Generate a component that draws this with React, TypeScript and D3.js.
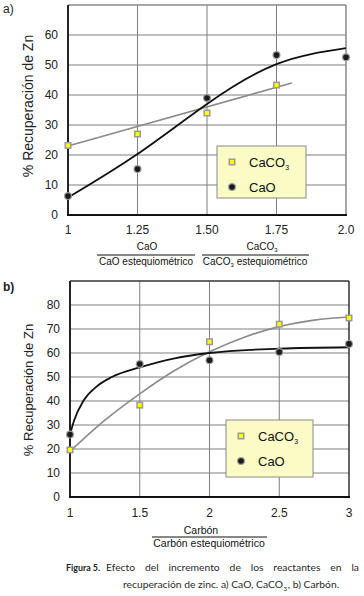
import React, { useLayoutEffect, useRef } from "react";
import * as d3 from "d3";

// ---------- data ----------
const A_X = [1, 1.25, 1.5, 1.75, 2];
const A_X_LABELS = ["1", "1.25", "1.50", "1.75", "2.0"];
const A_Y_TICKS = [0, 10, 20, 30, 40, 50, 60];
const A_CACO3_X = [1, 1.25, 1.5, 1.75];
const A_CACO3 = [23.2, 27, 34, 43.3];
const A_CAO = [6.3, 15.3, 39, 53.3, 52.6];
const A_CACO3_FIT_X = [1, 1.805];
const A_CACO3_FIT = [23, 44];
const A_CAO_FIT_X = [1, 1.25, 1.5, 1.75, 2];
const A_CAO_FIT = [5.8, 20.3, 37, 50.3, 55.6];

const B_X = [1, 1.5, 2, 2.5, 3];
const B_X_LABELS = ["1", "1.5", "2", "2.5", "3"];
const B_Y_TICKS = [0, 10, 20, 30, 40, 50, 60, 70, 80];
const B_CACO3 = [19.6, 38.3, 64.7, 72, 74.6];
const B_CAO = [26, 55.4, 57, 60.4, 63.8];
const B_CACO3_FIT_X = [1, 1.25, 1.5, 1.75, 2, 2.25, 2.5, 2.75, 3];
const B_CACO3_FIT = [19, 32, 43, 52.7, 60.5, 66.6, 71, 73.7, 75];
const B_CAO_FIT_X = [1, 1.03, 1.095, 1.19, 1.3, 1.5, 1.75, 2, 2.5, 3];
const B_CAO_FIT = [26, 32, 40, 46, 50, 54, 57.8, 60, 61.8, 62.4];

const CAPTION_LINE1 = ["Efecto", "del", "incremento", "de", "los", "reactantes", "en", "la"];
const CAPTION_LINE2 = [
  { t: "recuperación de zinc. a) CaO, CaCO", sub: false },
  { t: "3", sub: true },
  { t: ", b) Carbón.", sub: false },
];

const FONT = "'Liberation Sans', Arial, sans-serif";
const CAP_FONT = "Lato, 'Open Sans', sans-serif";
const GRID = "#7f7f7f";

type PanelProps = {
  x: d3.ScaleLinear<number, number>;
  y: d3.ScaleLinear<number, number>;
  xTicks: number[];
  xLabels: string[];
  yTicks: number[];
  yMax: number;
  frameColor: string;
  caco3X: number[];
  caco3: number[];
  caoX: number[];
  cao: number[];
  caco3FitX: number[];
  caco3Fit: number[];
  caoFitX: number[];
  caoFit: number[];
  caoCurve: d3.CurveFactory;
  caco3Curve: d3.CurveFactory;
  xLabelY: number;
  legend: { x: number; y: number; w: number; h: number };
  yTitle: { x: number; y: number; size: number };
};

function Square({ cx, cy }: { cx: number; cy: number }) {
  return (
    <g>
      <rect x={cx - 3.5} y={cy - 3.5} width={7} height={7} fill="#9a9a9a" />
      <rect x={cx - 2} y={cy - 2} width={4} height={4} fill="#ffff00" />
    </g>
  );
}
function Dot({ cx, cy }: { cx: number; cy: number }) {
  return (
    <g>
      <circle cx={cx} cy={cy} r={4} fill="#9a9a9a" />
      <circle cx={cx} cy={cy} r={2.8} fill="#1a1a1a" />
    </g>
  );
}

function Panel(p: PanelProps) {
  const { x, y } = p;
  const [x0, x1] = x.range();
  const y0 = y(0);
  const yTop = y(p.yMax);
  const line = (xs: number[], ys: number[], curve: d3.CurveFactory) =>
    d3
      .line<number>()
      .x((_, i) => x(xs[i]))
      .y((v) => y(v))
      .curve(curve)(ys) || "";
  const lg = p.legend;
  return (
    <g>
      {p.yTicks
        .filter((t) => t > 0)
        .map((t) => (
          <line key={"h" + t} x1={x0} x2={x1} y1={y(t)} y2={y(t)} stroke={GRID} strokeWidth={1} />
        ))}
      {p.xTicks.slice(1, -1).map((t) => (
        <line key={"v" + t} x1={x(t)} x2={x(t)} y1={yTop} y2={y0} stroke={GRID} strokeWidth={1} />
      ))}
      <line x1={x0} x2={x1} y1={yTop} y2={yTop} stroke={p.frameColor} strokeWidth={1.5} />
      <line x1={x1} x2={x1} y1={yTop} y2={y0} stroke={p.frameColor} strokeWidth={1.5} />
      <line x1={x0} x2={x0} y1={yTop} y2={y0 + 1} stroke="#222" strokeWidth={2} />
      <line x1={x0 - 1} x2={x1 + 1} y1={y0} y2={y0} stroke="#111" strokeWidth={2} />
      {p.yTicks.map((t) => (
        <text key={"yl" + t} x={x0 - 10} y={y(t) + 4.3} textAnchor="end" fontSize={12} fontFamily={FONT} fill="#222">
          {t}
        </text>
      ))}
      {p.xTicks.map((t, i) => (
        <text key={"xl" + t} x={x(t)} y={p.xLabelY} textAnchor="middle" fontSize={12} fontFamily={FONT} fill="#222">
          {p.xLabels[i]}
        </text>
      ))}
      <text
        transform={`translate(${p.yTitle.x},${p.yTitle.y}) rotate(-90)`}
        textAnchor="middle"
        fontSize={p.yTitle.size}
        fontFamily={FONT}
        fill="#222"
      >
        % Recuperación de Zn
      </text>
      <path d={line(p.caco3FitX, p.caco3Fit, p.caco3Curve)} fill="none" stroke="#8a8a8a" strokeWidth={1.6} />
      <path d={line(p.caoFitX, p.caoFit, p.caoCurve)} fill="none" stroke="#111" strokeWidth={1.8} />
      {p.caco3.map((v, i) => (
        <Square key={"s" + i} cx={x(p.caco3X[i])} cy={y(v)} />
      ))}
      {p.cao.map((v, i) => (
        <Dot key={"d" + i} cx={x(p.caoX[i])} cy={y(v)} />
      ))}
      <rect x={lg.x} y={lg.y} width={lg.w} height={lg.h} fill="#fbfbc6" stroke="#8a8a8a" strokeWidth={1} />
      <Square cx={lg.x + 15} cy={lg.y + 16} />
      <text x={lg.x + 32} y={lg.y + 20.5} fontSize={13} fontFamily={FONT} fill="#111">
        CaCO<tspan fontSize={7} dy={3}>3</tspan>
      </text>
      <Dot cx={lg.x + 15} cy={lg.y + 41} />
      <text x={lg.x + 32} y={lg.y + 45.5} fontSize={13} fontFamily={FONT} fill="#111">
        CaO
      </text>
    </g>
  );
}

export default function App() {
  const wordsRef = useRef<SVGGElement>(null);
  const line2Ref = useRef<SVGGElement>(null);

  useLayoutEffect(() => {
    const g2 = line2Ref.current;
    const g = wordsRef.current;
    if (!g2 || !g) return;
    const BASE = 11.5;
    const SUB = 7;
    // line 2: pick a font size so the whole line spans 215px starting at x=123
    const parts = Array.from(g2.querySelectorAll("text")) as SVGTextElement[];
    const natural2 = parts.reduce((a, t) => a + t.getComputedTextLength(), 0);
    const k = 215 / natural2;
    parts.forEach((t, i) => {
      t.setAttribute("font-size", ((CAPTION_LINE2[i].sub ? SUB : BASE) * k).toFixed(3));
    });
    let px = 123;
    parts.forEach((t) => {
      t.setAttribute("x", px.toFixed(2));
      px += t.getComputedTextLength() + 0.6;
    });
    // line 1: same size, justified between 106 and 359
    const words = Array.from(g.querySelectorAll("text")) as SVGTextElement[];
    words.forEach((w) => w.setAttribute("font-size", (BASE * k).toFixed(3)));
    const widths = words.map((w) => w.getComputedTextLength());
    const total = widths.reduce((a, b) => a + b, 0);
    const start = 106;
    const end = 359;
    const gap = (end - start - total) / (words.length - 1);
    let xx = start;
    words.forEach((w, i) => {
      w.setAttribute("x", xx.toFixed(2));
      xx += widths[i] + gap;
    });
  }, []);

  const xA = d3.scaleLinear([1, 2], [68, 346]);
  const yA = d3.scaleLinear([0, 70], [215, 5]);
  const xB = d3.scaleLinear([1, 3], [70, 349]);
  const yB = d3.scaleLinear([0, 90], [497, 281]);

  return (
    <svg width={364} height={596} style={{ position: "absolute", left: 0, top: 0, background: "#fff" }}>
      <rect width={364} height={596} fill="#fff" />
      <text x={3} y={13} fontSize={12} fontFamily={FONT} fill="#222">
        a)
      </text>
      <Panel
        x={xA}
        y={yA}
        xTicks={A_X}
        xLabels={A_X_LABELS}
        yTicks={A_Y_TICKS}
        yMax={70}
        frameColor="#8a8a8a"
        caco3X={A_CACO3_X}
        caco3={A_CACO3}
        caoX={A_X}
        cao={A_CAO}
        caco3FitX={A_CACO3_FIT_X}
        caco3Fit={A_CACO3_FIT}
        caoFitX={A_CAO_FIT_X}
        caoFit={A_CAO_FIT}
        caoCurve={d3.curveNatural}
        caco3Curve={d3.curveLinear}
        xLabelY={234}
        legend={{ x: 217, y: 146, w: 89, h: 52 }}
        yTitle={{ x: 33, y: 106, size: 14 }}
      />
      <text x={147} y={250} textAnchor="middle" fontSize={10} fontFamily={FONT} fill="#111">
        CaO
      </text>
      <line x1={97} x2={195} y1={255} y2={255} stroke="#111" strokeWidth={1} />
      <text x={146} y={265} textAnchor="middle" fontSize={10} fontFamily={FONT} fill="#111">
        CaO estequiométrico
      </text>
      <text x={262} y={250} textAnchor="middle" fontSize={10} fontFamily={FONT} fill="#111">
        CaCO<tspan fontSize={6} dy={2}>3</tspan>
      </text>
      <line x1={202} x2={309} y1={255} y2={255} stroke="#111" strokeWidth={1} />
      <text x={255} y={265} textAnchor="middle" fontSize={10} fontFamily={FONT} fill="#111">
        CaCO<tspan fontSize={6} dy={2}>3</tspan>
        <tspan dy={-2}> estequiométrico</tspan>
      </text>

      <text x={3} y={291} fontSize={12} fontWeight="bold" fontFamily={FONT} fill="#222">
        b)
      </text>
      <Panel
        x={xB}
        y={yB}
        xTicks={B_X}
        xLabels={B_X_LABELS}
        yTicks={B_Y_TICKS}
        yMax={90}
        frameColor="#333"
        caco3X={B_X}
        caco3={B_CACO3}
        caoX={B_X}
        cao={B_CAO}
        caco3FitX={B_CACO3_FIT_X}
        caco3Fit={B_CACO3_FIT}
        caoFitX={B_CAO_FIT_X}
        caoFit={B_CAO_FIT}
        caoCurve={d3.curveMonotoneX}
        caco3Curve={d3.curveMonotoneX}
        xLabelY={517}
        legend={{ x: 226, y: 420, w: 87, h: 57 }}
        yTitle={{ x: 33, y: 390, size: 13 }}
      />
      <text x={201} y={534} textAnchor="middle" fontSize={10.5} fontFamily={FONT} fill="#111">
        Carbón
      </text>
      <line x1={152} x2={267} y1={537} y2={537} stroke="#111" strokeWidth={1} />
      <text x={209} y={547} textAnchor="middle" fontSize={10.5} fontFamily={FONT} fill="#111">
        Carbón estequiométrico
      </text>

      {/* caption */}
      <text
        x={66}
        y={571}
        fontSize={10}
        fontWeight="bold"
        fontFamily={CAP_FONT}
        fill="#222"
        textLength={34}
        lengthAdjust="spacingAndGlyphs"
      >
        Figura 5.
      </text>
      <g ref={wordsRef}>
        {CAPTION_LINE1.map((w, i) => (
          <text key={i} x={106} y={571} fontSize={11.5} fontFamily={CAP_FONT} fill="#2a2a2a">
            {w}
          </text>
        ))}
      </g>
      <g ref={line2Ref}>
        {CAPTION_LINE2.map((p, i) => (
          <text
            key={i}
            x={123}
            y={p.sub ? 590.5 : 588}
            fontSize={p.sub ? 7 : 11.5}
            fontFamily={CAP_FONT}
            fill="#2a2a2a"
          >
            {p.t}
          </text>
        ))}
      </g>
    </svg>
  );
}
